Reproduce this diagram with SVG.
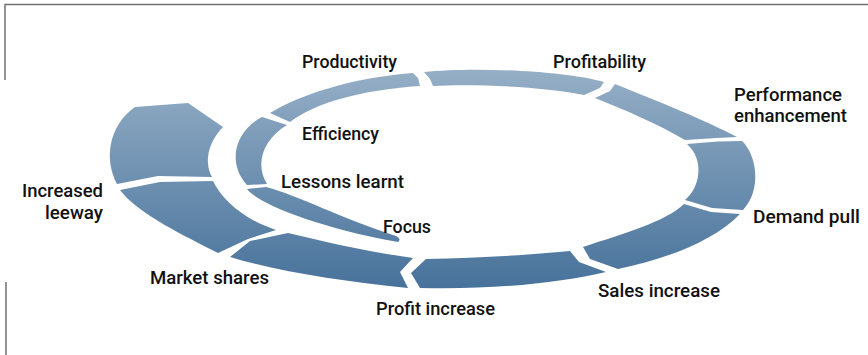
<svg xmlns="http://www.w3.org/2000/svg" width="868" height="355" viewBox="0 0 868 355">
  <defs>
    <linearGradient id="band" gradientUnits="userSpaceOnUse" x1="0" y1="65" x2="0" y2="292">
      <stop offset="0" stop-color="#97b0c7"/>
      <stop offset="1" stop-color="#46719a"/>
    </linearGradient>
  </defs>
  <style>
    .seg { fill: url(#band); stroke: none; }
    .lbl { font-family: Roboto, "Liberation Sans", Arial, sans-serif; font-weight: 500; font-size: 18px; fill: #111; }
    .frame { stroke: #707070; stroke-width: 1.5; fill: none; }
  </style>

  <!-- partial frame -->
  <g id="frame">
    <path class="frame" d="M5,80 V4.5 H868"/>
    <path class="frame" d="M6,282 V355"/>
  </g>

  <!-- spiral segments, innermost tail first -->
  <g id="focus">
    <path class="seg" d="M247,189 C255,201 310,226 398,242 Q402,239 396,236 C340,218 300,196 266,187 Z"/>
    <text class="lbl" x="383" y="233" textLength="48" lengthAdjust="spacingAndGlyphs">Focus</text>
  </g>

  <g id="lessons-learnt">
    <text class="lbl" x="281" y="188" textLength="123" lengthAdjust="spacingAndGlyphs">Lessons learnt</text>
  </g>

  <g id="efficiency">
    <path class="seg" d="M262,117 C236,130 226,162 247,185 L267,184 C255,165 262,140 287,125 Z"/>
    <text class="lbl" x="302" y="140" textLength="77" lengthAdjust="spacingAndGlyphs">Efficiency</text>
  </g>

  <g id="productivity">
    <path class="seg" d="M270,113 C300,95 350,78 413,73 L418,78 L420,86 C360,90 315,103 290,122 Z"/>
    <text class="lbl" x="302" y="68" textLength="95" lengthAdjust="spacingAndGlyphs">Productivity</text>
  </g>

  <g id="profitability">
    <path class="seg" d="M424,72 C470,67 560,70 604,82 L600,88 L584,95 C540,86 470,84 433,86 L430,79 Z"/>
    <text class="lbl" x="553" y="68" textLength="93" lengthAdjust="spacingAndGlyphs">Profitability</text>
  </g>

  <g id="performance-enhancement">
    <path class="seg" d="M615,84 C655,100 705,120 737,137 L717,138 L685,140 C660,125 625,110 595,98 L610,91 Z"/>
    <text class="lbl" x="734" y="101" textLength="108" lengthAdjust="spacingAndGlyphs">Performance</text>
    <text class="lbl" x="734" y="122" textLength="113" lengthAdjust="spacingAndGlyphs">enhancement</text>
  </g>

  <g id="demand-pull">
    <path class="seg" d="M687,144 L718,141.5 L742,141 C757,155 762,190 743,210 L712,208 L685,200 C700,188 705,160 687,144 Z"/>
    <text class="lbl" x="753" y="223" textLength="107" lengthAdjust="spacingAndGlyphs">Demand pull</text>
  </g>

  <g id="sales-increase">
    <path class="seg" d="M684,204 L711,212 L740,214 C715,240 670,258 618,269 L590,259 L583,247 C625,233 665,222 684,204 Z"/>
    <text class="lbl" x="598" y="297" textLength="122" lengthAdjust="spacingAndGlyphs">Sales increase</text>
  </g>

  <g id="profit-increase">
    <path class="seg" d="M426,259 C480,258 530,255 570,251 L579,262 L606,272 C560,283 490,290 420,288 L411,273 Z"/>
    <text class="lbl" x="376" y="315" textLength="119" lengthAdjust="spacingAndGlyphs">Profit increase</text>
  </g>

  <g id="market-shares">
    <path class="seg" d="M288,233 C330,243 370,252 413,258 L400,272 L408,288 C340,281 280,272 230,257 L250,241 Z"/>
    <text class="lbl" x="150" y="284" textLength="119" lengthAdjust="spacingAndGlyphs">Market shares</text>
  </g>

  <g id="increased-leeway">
    <path class="seg" d="M120,190 L160,182 L213,181 C222,200 245,220 276,230 L248,239 L218,253 C185,236 138,214 120,190 Z"/>
    <text class="lbl" x="103" y="197" text-anchor="end" textLength="81" lengthAdjust="spacingAndGlyphs">Increased</text>
    <text class="lbl" x="103" y="219" text-anchor="end" textLength="58" lengthAdjust="spacingAndGlyphs">leeway</text>
  </g>

  <g id="outer-head">
    <path class="seg" d="M135,107 L188,103 L223,127 C210,140 203,160 212,177 L158,176 L117,184 C104,160 108,126 135,107 Z"/>
  </g>
</svg>
